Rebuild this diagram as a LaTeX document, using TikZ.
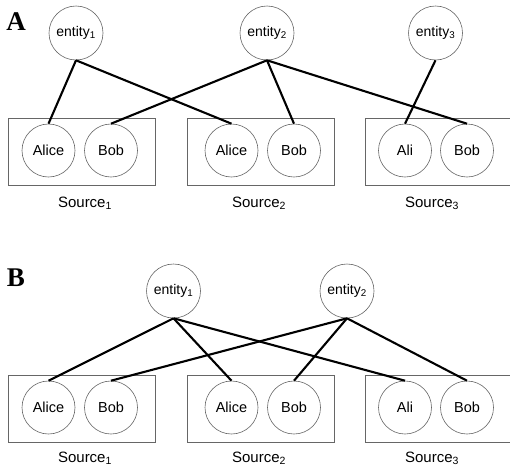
\documentclass[tikz,border=0pt]{standalone}
\usepackage{fontspec}
\setmainfont{Liberation Sans}
\newfontfamily\panelfont{Liberation Serif}
\begin{document}
\begin{tikzpicture}[x=1pt,y=-1pt,
  ent/.style={circle, draw=black!60, line width=0.6pt, minimum size=54pt, inner sep=0pt, font=\fontsize{14}{15}\selectfont},
  nm/.style={circle, draw=black!60, line width=0.6pt, minimum size=53pt, inner sep=0pt, font=\fontsize{14.5}{16}\selectfont},
  srcbox/.style={rectangle, draw=black!60, line width=0.7pt, minimum width=147pt, minimum height=67pt, inner sep=0pt},
  srclabel/.style={font=\fontsize{15}{16}\selectfont, inner sep=0pt},
  panel/.style={font=\panelfont\bfseries\fontsize{27}{28}\selectfont, inner sep=0pt},
  link/.style={line width=2.1pt, black}]
\useasboundingbox (0,0) rectangle (510,466);
% ---------- Panel A ----------
\node[panel] (lA) at (16,21.5) {A};
\node[ent] (eA1) at (76,33) {entity\textsubscript{1}};
\node[ent] (eA2) at (267,33) {entity\textsubscript{2}};
\node[ent] (eA3) at (435.5,33) {entity\textsubscript{3}};
\node[srcbox] (bA1) at (82,151.5) {};
\node[srcbox] (bA2) at (260.5,151.5) {};
\node[srcbox] (bA3) at (438.5,151.5) {};
\node[nm] (aA1) at (48.5,150.5) {Alice};
\node[nm] (bbA1) at (111,150.5) {Bob};
\node[nm] (aA2) at (231.5,150.5) {Alice};
\node[nm] (bbA2) at (294,150.5) {Bob};
\node[nm] (aA3) at (405,150.5) {Ali};
\node[nm] (bbA3) at (467,150.5) {Bob};
\node[srclabel] (sA1) at (85,203) {Source\textsubscript{1}};
\node[srclabel] (sA2) at (259,203) {Source\textsubscript{2}};
\node[srclabel] (sA3) at (432,203) {Source\textsubscript{3}};
\draw[link] (eA1.south) -- (aA1.north);
\draw[link] (eA1.south) -- (aA2.north);
\draw[link] (eA2.south) -- (bbA1.north);
\draw[link] (eA2.south) -- (bbA2.north);
\draw[link] (eA2.south) -- (bbA3.north);
\draw[link] (eA3.south) -- (aA3.north);
% ---------- Panel B ----------
\node[panel] (lB) at (16,278) {B};
\node[ent] (eB1) at (173.5,291) {entity\textsubscript{1}};
\node[ent] (eB2) at (347,291) {entity\textsubscript{2}};
\node[srcbox] (bB1) at (82,409) {};
\node[srcbox] (bB2) at (260.5,409) {};
\node[srcbox] (bB3) at (438.5,409) {};
\node[nm] (aB1) at (48.5,407.5) {Alice};
\node[nm] (bbB1) at (111,407.5) {Bob};
\node[nm] (aB2) at (231.5,407.5) {Alice};
\node[nm] (bbB2) at (294,407.5) {Bob};
\node[nm] (aB3) at (405,407.5) {Ali};
\node[nm] (bbB3) at (467,407.5) {Bob};
\node[srclabel] (sB1) at (85,458) {Source\textsubscript{1}};
\node[srclabel] (sB2) at (259,458) {Source\textsubscript{2}};
\node[srclabel] (sB3) at (432,458) {Source\textsubscript{3}};
\draw[link] (eB1.south) -- (aB1.north);
\draw[link] (eB1.south) -- (aB2.north);
\draw[link] (eB1.south) -- (aB3.north);
\draw[link] (eB2.south) -- (bbB1.north);
\draw[link] (eB2.south) -- (bbB2.north);
\draw[link] (eB2.south) -- (bbB3.north);
\end{tikzpicture}
\end{document}
